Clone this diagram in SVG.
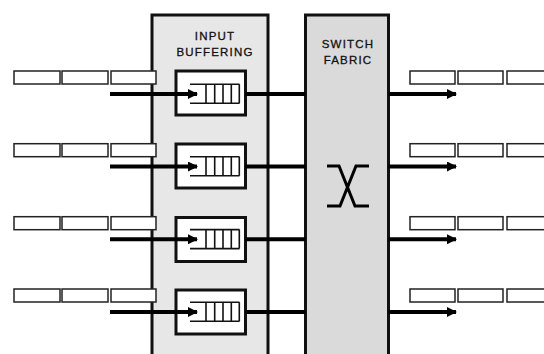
<svg xmlns="http://www.w3.org/2000/svg" width="544" height="354" viewBox="0 0 544 354">
  <defs>
    <style>
      .stage { stroke: #111; stroke-width: 3; }
      .pkt { fill: #fff; stroke: #222; stroke-width: 1.5; }
      .buf { fill: #fff; stroke: #111; stroke-width: 3; }
      .q { fill: none; stroke: #111; stroke-width: 1.6; }
      .lbl { font-family: "Liberation Sans", Arial, sans-serif; font-size: 11.5px; letter-spacing: 1.2px; fill: #111; stroke: #111; stroke-width: 0.3; text-anchor: middle; }
      .wire { fill: none; stroke: #000; stroke-width: 4; }
      .x { fill: none; stroke: #000; stroke-width: 3; }
    </style>
    <marker id="ah" viewBox="0 0 10 10" refX="9" refY="5" markerWidth="2.6" markerHeight="2.5" orient="auto" markerUnits="strokeWidth">
      <path d="M0,0 L10,5 L0,10 z" fill="#000"/>
    </marker>
    <g id="queue">
      <path class="q" d="M190,84.3 H239.5 M190,103.3 H239.5 M206,84.3 V103.3 M214.7,84.3 V103.3 M223,84.3 V103.3 M231.3,84.3 V103.3 M239.3,84.3 V103.3"/>
    </g>
    <g id="inpkts">
      <rect class="pkt" x="14" y="71" width="46" height="13"/>
      <rect class="pkt" x="62" y="71" width="46" height="13"/>
      <rect class="pkt" x="111" y="71" width="45" height="13"/>
    </g>
    <g id="outpkts">
      <rect class="pkt" x="410" y="71" width="45" height="13"/>
      <rect class="pkt" x="458" y="71" width="45" height="13"/>
      <rect class="pkt" x="507" y="71" width="45" height="13"/>
    </g>
  </defs>

  <rect width="544" height="354" fill="#fff"/>

  <g id="input-buffering">
    <rect class="stage" x="152" y="15" width="116" height="350" fill="#e7e7e7"/>
    <text class="lbl" x="215" y="39.5">INPUT</text>
    <text class="lbl" x="215" y="56">BUFFERING</text>
  </g>

  <g id="switch-fabric">
    <rect class="stage" x="305.5" y="15" width="83" height="350" fill="#dadada"/>
    <text class="lbl" x="348" y="47.5">SWITCH</text>
    <text class="lbl" x="348" y="64">FABRIC</text>
    <path class="x" d="M327,166 H339 L355,206 H369 M369,166 H356 L340,206 H327"/>
  </g>

  <g id="input-packets">
    <use href="#inpkts"/>
    <use href="#inpkts" y="72.7"/>
    <use href="#inpkts" y="145.7"/>
    <use href="#inpkts" y="218"/>
  </g>

  <g id="output-packets">
    <use href="#outpkts"/>
    <use href="#outpkts" y="72.7"/>
    <use href="#outpkts" y="145.7"/>
    <use href="#outpkts" y="218"/>
  </g>

  <g id="buffer-1">
    <rect class="buf" x="176" y="71" width="69.5" height="44"/>
    <use href="#queue"/>
  </g>
  <g id="buffer-2">
    <rect class="buf" x="176" y="144" width="69.5" height="44"/>
    <use href="#queue" y="72.5"/>
  </g>
  <g id="buffer-3">
    <rect class="buf" x="176" y="217.5" width="69.5" height="44"/>
    <use href="#queue" y="145.3"/>
  </g>
  <g id="buffer-4">
    <rect class="buf" x="176" y="290" width="69.5" height="44"/>
    <use href="#queue" y="218"/>
  </g>

  <g id="connectors">
    <path class="wire" d="M110,94 H197" marker-end="url(#ah)"/>
    <path class="wire" d="M110,166.5 H197" marker-end="url(#ah)"/>
    <path class="wire" d="M110,239.3 H197" marker-end="url(#ah)"/>
    <path class="wire" d="M110,312 H197" marker-end="url(#ah)"/>
    <path class="wire" d="M245.5,94 H305.5"/>
    <path class="wire" d="M245.5,166.5 H305.5"/>
    <path class="wire" d="M245.5,239.3 H305.5"/>
    <path class="wire" d="M245.5,312 H305.5"/>
    <path class="wire" d="M388.5,94 H456" marker-end="url(#ah)"/>
    <path class="wire" d="M388.5,166.5 H456" marker-end="url(#ah)"/>
    <path class="wire" d="M388.5,239.3 H456" marker-end="url(#ah)"/>
    <path class="wire" d="M388.5,312 H456" marker-end="url(#ah)"/>
  </g>
</svg>
